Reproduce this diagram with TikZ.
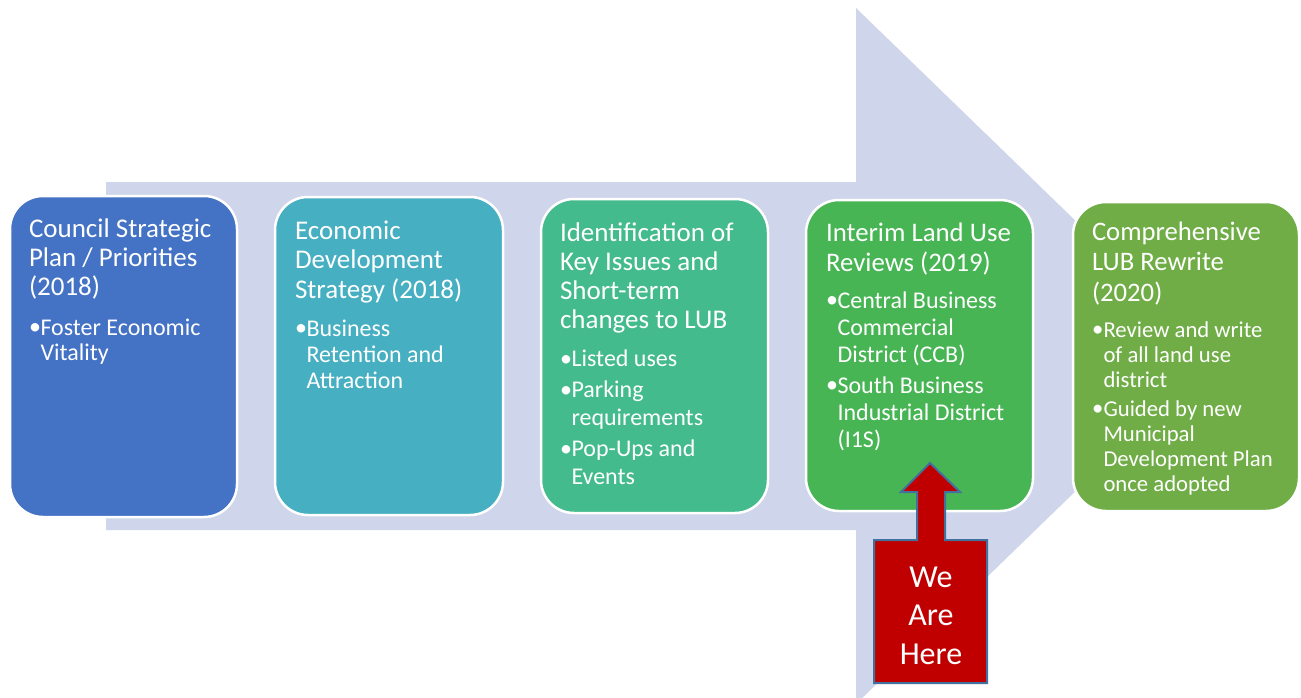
\documentclass[tikz,border=0pt]{standalone}
\usepackage{fontspec}
\setmainfont{Carlito}
\definecolor{lav}{HTML}{CFD5EA}
\definecolor{cA}{HTML}{4472C4}
\definecolor{cB}{HTML}{46AFC1}
\definecolor{cC}{HTML}{44BB8D}
\definecolor{cD}{HTML}{48B554}
\definecolor{cE}{HTML}{70AD47}
\definecolor{redfill}{HTML}{C00000}
\definecolor{redline}{HTML}{41719C}
\newcommand\nl{\hfil\break}
\newcommand\bul[1]{\par\hangindent=11.5pt\hangafter=1\noindent\hbox to 11.5pt{\raisebox{0.5pt}{•}\hss}#1\par}
\tikzset{
  box/.style={draw=white, line width=2.5pt, rounded corners=33pt, inner sep=0pt},
  txt/.style={anchor=base west, inner sep=0pt, outer sep=0pt, text=white, align=left},
}
\begin{document}
\begin{tikzpicture}[x=1pt,y=-1pt]
\useasboundingbox (0,0) rectangle (1301,698);
\clip (0,0) rectangle (1301,698);
\fill[white] (0,0) rectangle (1301,698);
% background arrow
\fill[lav] (106,182) -- (856,182) -- (856,8) -- (1215,356) -- (856,704) -- (856,530) -- (106,530) -- cycle;
% boxes
\node[box, fill=cA, minimum width=227pt, minimum height=321pt] (b1) at (123.5,356.5) {};
\node[box, fill=cB, minimum width=228pt, minimum height=318pt] (b2) at (389,356) {};
\node[box, fill=cC, minimum width=227pt, minimum height=314pt] (b3) at (654.5,356) {};
\node[box, fill=cD, minimum width=227pt, minimum height=311pt] (b4) at (919.5,355.5) {};
\node[box, fill=cE, minimum width=226pt, minimum height=309pt] (b5) at (1186,356.5) {};
% texts
\node[txt] (t1) at (29,237) {\parbox[t]{215pt}{\raggedright\parskip=0pt
  \fontsize{27}{29}\selectfont Council Strategic\nl Plan / Priorities\nl (2018)\par
  \vspace{14.5pt}\fontsize{24}{25.5}\selectfont
  \bul{Foster Economic\nl Vitality}}};
\node[txt] (t2) at (295,239) {\parbox[t]{215pt}{\raggedright\parskip=0pt
  \fontsize{27}{29.5}\selectfont Economic\nl Development\nl Strategy (2018)\par
  \vspace{12pt}\fontsize{24}{26}\selectfont
  \bul{Business\nl Retention and\nl Attraction}}};
\node[txt] (t3) at (560,241) {\parbox[t]{215pt}{\raggedright\parskip=0pt
  \fontsize{27}{29.3}\selectfont Identification of\nl Key Issues and\nl Short-term\nl changes to LUB\par
  \vspace{10pt}\fontsize{24}{28}\selectfont
  \bul{Listed uses}\vspace{3pt}
  \bul{Parking\nl requirements}\vspace{3pt}
  \bul{Pop-Ups and\nl Events}}};
\node[txt] (t4) at (826,241) {\parbox[t]{215pt}{\raggedright\parskip=0pt
  \fontsize{26.8}{30}\selectfont Interim Land Use\nl Reviews (2019)\par
  \vspace{10pt}\fontsize{24}{27}\selectfont
  \bul{Central Business\nl Commercial\nl District (CCB)}\vspace{4pt}
  \bul{South Business\nl Industrial District\nl (I1S)}}};
\node[txt] (t5) at (1092,240) {\parbox[t]{215pt}{\raggedright\parskip=0pt
  \fontsize{26.7}{30.5}\selectfont Comprehensive\nl LUB Rewrite\nl (2020)\par
  \vspace{11pt}\fontsize{22.7}{25}\selectfont
  \bul{Review and write\nl of all land use\nl district}\vspace{4pt}
  \bul{Guided by new\nl Municipal\nl Development Plan\nl once adopted}}};
% we are here arrow
\filldraw[fill=redfill, draw=redline, line width=2pt, line join=miter]
  (874,540) -- (917,540) -- (917,492) -- (901,492) -- (930,463) -- (960,492)
  -- (945,492) -- (945,540) -- (987,540) -- (987,683) -- (874,683) -- cycle;
\node[anchor=base, inner sep=0pt, text=white, align=center,
  font=\fontsize{32}{38.5}\selectfont] (here) at (931,664) {We\\Are\\Here};
\end{tikzpicture}
\end{document}
